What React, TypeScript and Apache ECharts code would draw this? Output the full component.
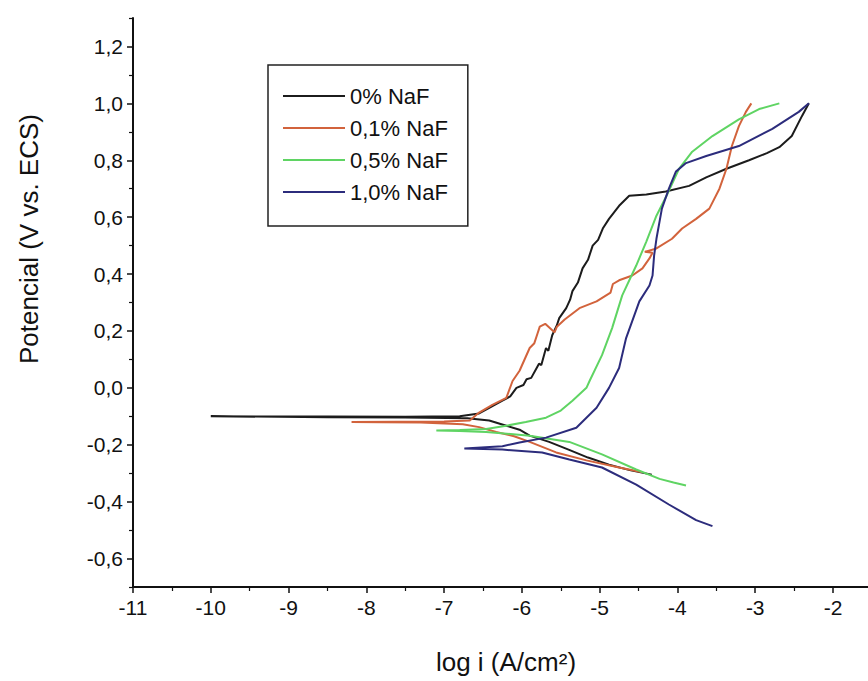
import { useEffect, useRef } from "react";
import * as echarts from "echarts";

const seriesNames = ["0% NaF", "0,1% NaF", "0,5% NaF", "1,0% NaF"];
const seriesColors = ["#1c1c1c", "#d2633c", "#5fd463", "#2c2c7c"];

const xTickValues = [-11, -10, -9, -8, -7, -6, -5, -4, -3, -2];
const xMinorValues = [-10.5, -9.5, -8.5, -7.5, -6.5, -5.5, -4.5, -3.5, -2.5];
const yTickValues = [-0.6, -0.4, -0.2, 0, 0.2, 0.4, 0.6, 0.8, 1.0, 1.2];
const yMinorValues = [-0.7, -0.5, -0.3, -0.1, 0.1, 0.3, 0.5, 0.7, 0.9, 1.1, 1.3];

// 0% NaF: cathodic end -> Ecorr spike -> anodic end
const naf0: number[][] = [
  [-4.33, -0.305], [-4.6, -0.29], [-4.88, -0.27], [-5.15, -0.245], [-5.4, -0.217],
  [-5.65, -0.19], [-5.9, -0.168], [-6.03, -0.147], [-6.2, -0.133], [-6.42, -0.115],
  [-6.7, -0.107], [-7.5, -0.104], [-8.5, -0.103], [-10.0, -0.1], [-8.5, -0.101],
  [-7.5, -0.102], [-6.8, -0.1], [-6.55, -0.09], [-6.42, -0.07], [-6.25, -0.045],
  [-6.15, -0.03], [-6.07, 0.0], [-5.98, 0.01], [-5.94, 0.03], [-5.88, 0.035],
  [-5.81, 0.07], [-5.78, 0.085], [-5.75, 0.08], [-5.69, 0.14], [-5.66, 0.13],
  [-5.61, 0.185], [-5.55, 0.22], [-5.52, 0.245], [-5.43, 0.28], [-5.38, 0.31],
  [-5.35, 0.34], [-5.28, 0.37], [-5.22, 0.42], [-5.15, 0.45], [-5.09, 0.5],
  [-5.02, 0.52], [-4.96, 0.56], [-4.88, 0.594], [-4.75, 0.64], [-4.62, 0.675],
  [-4.4, 0.68], [-4.15, 0.69], [-3.85, 0.71], [-3.63, 0.74], [-3.37, 0.77],
  [-3.08, 0.8], [-2.85, 0.825], [-2.69, 0.846], [-2.53, 0.885], [-2.4, 0.955], [-2.31, 1.0],
];

// 0,1% NaF
const naf01: number[][] = [
  [-4.45, -0.297], [-4.75, -0.28], [-5.17, -0.255], [-5.56, -0.227], [-5.9, -0.19],
  [-6.1, -0.17], [-6.33, -0.155], [-6.55, -0.138], [-6.76, -0.128], [-7.3, -0.122],
  [-7.8, -0.121], [-8.19, -0.12], [-7.6, -0.119], [-7.0, -0.118], [-6.67, -0.115],
  [-6.55, -0.087], [-6.38, -0.06], [-6.2, -0.035], [-6.12, 0.024], [-6.03, 0.06],
  [-5.9, 0.14], [-5.84, 0.157], [-5.8, 0.19], [-5.77, 0.215], [-5.7, 0.225],
  [-5.62, 0.205], [-5.58, 0.195], [-5.55, 0.215], [-5.45, 0.24], [-5.26, 0.28],
  [-5.04, 0.304], [-4.86, 0.335], [-4.83, 0.365], [-4.75, 0.378], [-4.58, 0.395],
  [-4.45, 0.42], [-4.36, 0.455], [-4.32, 0.475], [-4.42, 0.478], [-4.27, 0.49],
  [-4.07, 0.524], [-3.94, 0.56], [-3.76, 0.594], [-3.59, 0.63], [-3.46, 0.7],
  [-3.37, 0.77], [-3.3, 0.85], [-3.21, 0.92], [-3.12, 0.97], [-3.05, 1.0],
];

// 0,5% NaF
const naf05: number[][] = [
  [-3.89, -0.343], [-4.05, -0.333], [-4.23, -0.32], [-4.53, -0.287], [-4.97, -0.234],
  [-5.39, -0.19], [-5.9, -0.168], [-6.46, -0.155], [-6.8, -0.152], [-7.1, -0.15],
  [-6.8, -0.148], [-6.46, -0.145], [-6.2, -0.133], [-5.95, -0.12], [-5.69, -0.105],
  [-5.5, -0.08], [-5.35, -0.045], [-5.17, 0.0], [-5.13, 0.024], [-4.97, 0.115],
  [-4.84, 0.21], [-4.71, 0.325], [-4.53, 0.43], [-4.4, 0.514], [-4.27, 0.605],
  [-4.14, 0.675], [-3.98, 0.77], [-3.81, 0.83], [-3.55, 0.885], [-3.21, 0.944],
  [-2.95, 0.98], [-2.69, 1.0],
];

// 1,0% NaF
const naf10: number[][] = [
  [-3.55, -0.486], [-3.76, -0.465], [-4.11, -0.41], [-4.53, -0.34], [-4.97, -0.28],
  [-5.39, -0.252], [-5.74, -0.227], [-6.25, -0.217], [-6.74, -0.213], [-6.25, -0.205],
  [-6.03, -0.192], [-5.69, -0.175], [-5.3, -0.14], [-5.04, -0.07], [-4.88, 0.0],
  [-4.75, 0.07], [-4.66, 0.175], [-4.49, 0.304], [-4.36, 0.36], [-4.32, 0.395],
  [-4.3, 0.465], [-4.27, 0.524], [-4.2, 0.63], [-4.11, 0.7], [-4.02, 0.76],
  [-3.89, 0.79], [-3.63, 0.815], [-3.21, 0.85], [-2.78, 0.91], [-2.44, 0.97], [-2.31, 1.0],
];

const seriesData = [naf0, naf01, naf05, naf10];

const FONT = "'Liberation Sans', Arial, sans-serif";

export default function App() {
  const ref = useRef<HTMLDivElement>(null);
  useEffect(() => {
    document.body.style.margin = "0";
    const chart = echarts.init(ref.current!, null, { renderer: "svg" });
    const axisLineStyle = { color: "#111", width: 2 };
    chart.setOption({
      animation: false,
      backgroundColor: "#ffffff",
      grid: { left: 133, right: 0, top: 18, bottom: 94, containLabel: false },
      xAxis: [
        {
          type: "value",
          min: -11,
          max: -1.55,
          position: "bottom",
          axisLine: { show: true, onZero: false, lineStyle: axisLineStyle },
          axisTick: { show: true, inside: false, length: 6, lineStyle: { color: "#111", width: 1.5 }, customValues: xTickValues },
          axisLabel: {
            show: true,
            customValues: xTickValues,
            formatter: (v: number) => String(v),
            fontSize: 21,
            fontFamily: FONT,
            color: "#111",
            margin: 10,
          },
          splitLine: { show: false },
        },
        {
          type: "value",
          min: -11,
          max: -1.55,
          position: "bottom",
          axisLine: { show: false, onZero: false },
          axisTick: { show: true, inside: false, length: 4, lineStyle: { color: "#111", width: 1.2 }, customValues: xMinorValues },
          axisLabel: { show: false },
          splitLine: { show: false },
        },
      ],
      yAxis: [
        {
          type: "value",
          min: -0.7,
          max: 1.3,
          position: "left",
          axisLine: { show: true, onZero: false, lineStyle: axisLineStyle },
          axisTick: { show: true, inside: false, length: 6, lineStyle: { color: "#111", width: 1.5 }, customValues: yTickValues },
          axisLabel: {
            show: true,
            customValues: yTickValues,
            formatter: (v: number) => v.toFixed(1).replace(".", ","),
            fontSize: 21,
            fontFamily: FONT,
            color: "#111",
            margin: 10,
          },
          splitLine: { show: false },
        },
        {
          type: "value",
          min: -0.7,
          max: 1.3,
          position: "left",
          axisLine: { show: false, onZero: false },
          axisTick: { show: true, inside: false, length: 4, lineStyle: { color: "#111", width: 1.2 }, customValues: yMinorValues },
          axisLabel: { show: false },
          splitLine: { show: false },
        },
      ],
      legend: {
        show: true,
        orient: "vertical",
        left: 268,
        top: 65,
        padding: [20, 20, 23, 15],
        itemGap: 10,
        itemWidth: 62,
        itemHeight: 2,
        icon: "rect",
        borderColor: "#222",
        borderWidth: 1.5,
        borderRadius: 0,
        backgroundColor: "#fff",
        textStyle: { fontSize: 22, fontFamily: FONT, color: "#111" },
        data: seriesNames,
      },
      graphic: [
        {
          type: "text",
          x: 29,
          y: 239,
          rotation: Math.PI / 2,
          style: {
            text: "Potencial (V vs. ECS)",
            fontSize: 26,
            fontFamily: FONT,
            fill: "#111",
            align: "center",
            verticalAlign: "middle",
          },
        },
        {
          type: "text",
          x: 506,
          y: 662,
          style: {
            text: "log i (A/cm²)",
            fontSize: 26,
            fontFamily: FONT,
            fill: "#111",
            align: "center",
            verticalAlign: "middle",
          },
        },
      ],
      series: seriesNames.map((name, i) => ({
        name,
        type: "line",
        xAxisIndex: 0,
        yAxisIndex: 0,
        data: seriesData[i],
        showSymbol: false,
        symbol: "none",
        lineStyle: { color: seriesColors[i], width: 2 },
        itemStyle: { color: seriesColors[i] },
        z: 2 + i,
      })),
    });
    return () => chart.dispose();
  }, []);
  return <div ref={ref} style={{ width: 868, height: 681 }} />;
}
